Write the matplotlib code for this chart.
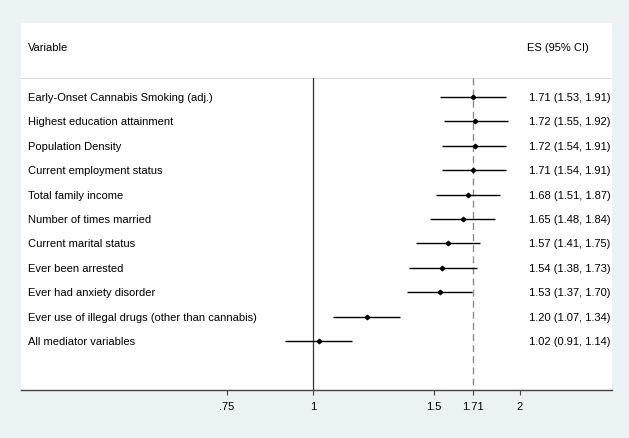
import numpy as np
import matplotlib
matplotlib.use("Agg")
import matplotlib.pyplot as plt
import matplotlib.transforms as mtransforms

plt.rcParams['font.family'] = ['Liberation Sans', 'DejaVu Sans']

variables = [
    "Early-Onset Cannabis Smoking (adj.)",
    "Highest education attainment",
    "Population Density",
    "Current employment status",
    "Total family income",
    "Number of times married",
    "Current marital status",
    "Ever been arrested",
    "Ever had anxiety disorder",
    "Ever use of illegal drugs (other than cannabis)",
    "All mediator variables",
]
es = [1.71, 1.72, 1.72, 1.71, 1.68, 1.65, 1.57, 1.54, 1.53, 1.20, 1.02]
lo = [1.53, 1.55, 1.54, 1.54, 1.51, 1.48, 1.41, 1.38, 1.37, 1.07, 0.91]
hi = [1.91, 1.92, 1.91, 1.91, 1.87, 1.84, 1.75, 1.73, 1.70, 1.34, 1.14]
overall = 1.71
xticks = [0.75, 1, 1.5, 1.71, 2]
xticklabels = [".75", "1", "1.5", "1.71", "2"]

W, H = 629, 439
fig = plt.figure(figsize=(W / 100, H / 100), dpi=100)
fig.patch.set_facecolor("#EAF2F3")

left_px, right_px, top_px, bot_px = 21, 612, 24, 391
ax = fig.add_axes([left_px / W, 1 - bot_px / H, (right_px - left_px) / W, (bot_px - top_px) / H])
ax.set_facecolor("white")
ax.set_xscale("log")
ax.set_xlim(0.3762, 2.721)
ax.set_ylim(12.0, -3.03)

n = len(variables)
ypos = np.arange(n)

fs = 8.0
# header separator
ax.axhline(-0.78, color="#dcdcdc", lw=0.8, zorder=1)
# reference lines
ax.plot([1, 1], [-0.78, 12.0], color="#333333", lw=0.9, zorder=2)
ax.plot([overall, overall], [-0.78, 12.0], color="#8c8c8c", lw=1.0,
        dashes=(5, 3), zorder=2)

# CIs and estimates
ax.hlines(ypos, lo, hi, color="black", lw=1.0, zorder=3)
ax.plot(es, ypos, ls="none", marker="D", ms=2.3, color="black", zorder=4)

trans = mtransforms.blended_transform_factory(ax.transAxes, ax.transData)
ax.text(0.0118, -2.05, "Variable", transform=trans, fontsize=fs, va="center", ha="left")
ax.text(0.856, -2.05, "ES (95% CI)", transform=trans, fontsize=fs, va="center", ha="left")
for i, v in enumerate(variables):
    ax.text(0.0118, ypos[i], v, transform=trans, fontsize=fs, va="center", ha="left")
    ax.text(0.8596, ypos[i], f"{es[i]:.2f} ({lo[i]:.2f}, {hi[i]:.2f})",
            transform=trans, fontsize=fs, va="center", ha="left")

for s in ["top", "left", "right"]:
    ax.spines[s].set_visible(False)
ax.spines["bottom"].set_color("#444444")
ax.spines["bottom"].set_linewidth(1.0)
ax.set_yticks([])
ax.xaxis.set_minor_locator(matplotlib.ticker.NullLocator())
ax.set_xticks(xticks)
ax.set_xticklabels(xticklabels)
ax.tick_params(axis="x", length=3.6, width=0.8, color="#444444", pad=4, labelsize=fs)

fig.savefig("out.png", dpi=100, facecolor=fig.get_facecolor())
